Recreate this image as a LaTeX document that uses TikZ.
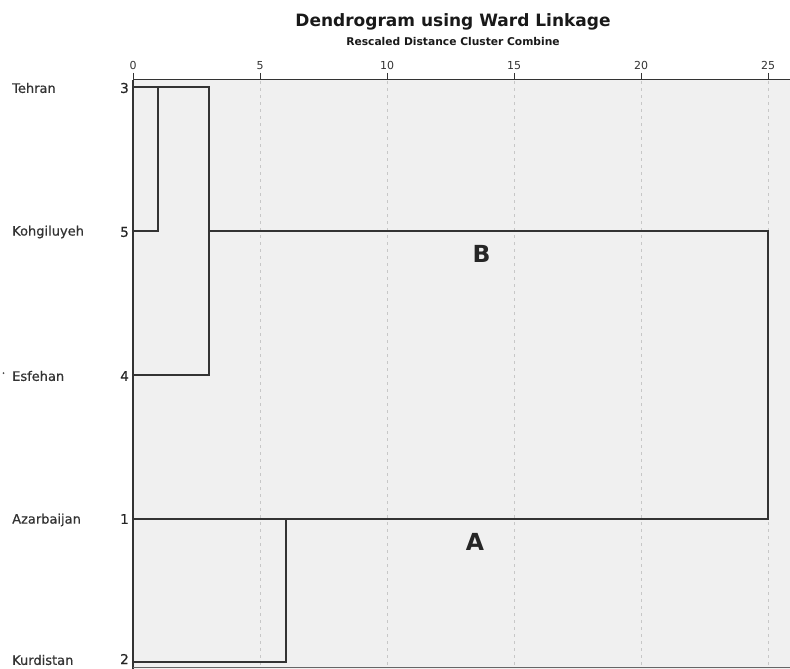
\documentclass[tikz,border=0pt]{standalone}
\usepackage{fontspec}
\setmainfont{DejaVu Sans}
\begin{document}
\begin{tikzpicture}[x=1pt,y=-1pt,
  lbl/.style={anchor=west,inner sep=0pt,font=\fontsize{13}{15}\selectfont\addfontfeatures{FakeBold=0.6},text=black!80},
  num/.style={anchor=east,inner sep=0pt,font=\fontsize{13.5}{15}\selectfont\addfontfeatures{FakeBold=0.6},text=black!85},
  tick/.style={anchor=south,inner sep=0pt,font=\fontsize{11}{12}\selectfont,text=black!80},
  branch/.style={draw=black!80,line width=1.4pt},
  gridl/.style={draw=black!22,line width=0.7pt,dash pattern=on 3pt off 4pt},
  cl/.style={font=\bfseries\fontsize{23.5}{26}\selectfont,text=black!85,inner sep=0pt}]
\useasboundingbox (0,0) rectangle (790,669);
\definecolor{plotbg}{HTML}{F0F0F0}
\fill[plotbg] (133,80) rectangle (790,669);
% grid
\foreach \k in {1,...,5}{
  \draw[gridl] ({133+127*\k},81) -- ({133+127*\k},666);
}
% axis
\draw[black!80,line width=1pt] (133,80) -- (790,80);
\draw[black!80,line width=1.2pt] (133,80) -- (133,669);
\draw[black!60,line width=1pt] (133,667) -- (790,667);
\foreach \k/\t in {0/0,1/5,2/10,3/15,4/20,5/25}{
  \draw[black!80,line width=1pt] ({133+127*\k},73) -- ({133+127*\k},80);
  \node[tick] (t\k) at ({133+127*\k},70) {\t};
}
% title
\node[font=\bfseries\fontsize{17}{20}\selectfont,text=black!90,inner sep=0pt] (title) at (453,22) {Dendrogram using Ward Linkage};
\node[font=\bfseries\fontsize{10.7}{12}\selectfont,text=black!90,inner sep=0pt] (sub) at (453,42) {Rescaled Distance Cluster Combine};
% leaf labels
\node[lbl] (nTeh) at (12,88) {Tehran};
\node[lbl] (nKoh) at (12,232) {Kohgiluyeh};
\node[lbl] (nEsf) at (12,376) {Esfehan};
\fill[black!70] (3.5,373) circle (1);
\node[lbl] (nAza) at (12,520) {Azarbaijan};
\node[lbl] (nKur) at (12,660) {Kurdistan};
\node[num] (c3) at (129,88) {3};
\node[num] (c5) at (129,232) {5};
\node[num] (c4) at (129,376) {4};
\node[num] (c1) at (129,519) {1};
\node[num] (c2) at (129,659) {2};
% leaf coordinates
\coordinate (l3) at (133,87);
\coordinate (l5) at (133,231);
\coordinate (l4) at (133,375);
\coordinate (l1) at (133,519);
\coordinate (l2) at (133,662);
% merge coordinates
\coordinate (m35) at (158,87);
\coordinate (m354) at (209,87);
\coordinate (m12) at (286,519);
\coordinate (mall) at (768,231);
% branches
\draw[branch] (l5) -| (m35) -- (m354) |- (l4);
\draw[branch] (l3) -- (m35);
\draw[branch] (m354 |- l5) -- (mall) |- (l1);
\draw[branch] (l2) -| (m12);
% cluster labels
\node[cl] (B) at (481.5,254) {B};
\node[cl] (A) at (475,542) {A};
\end{tikzpicture}
\end{document}
